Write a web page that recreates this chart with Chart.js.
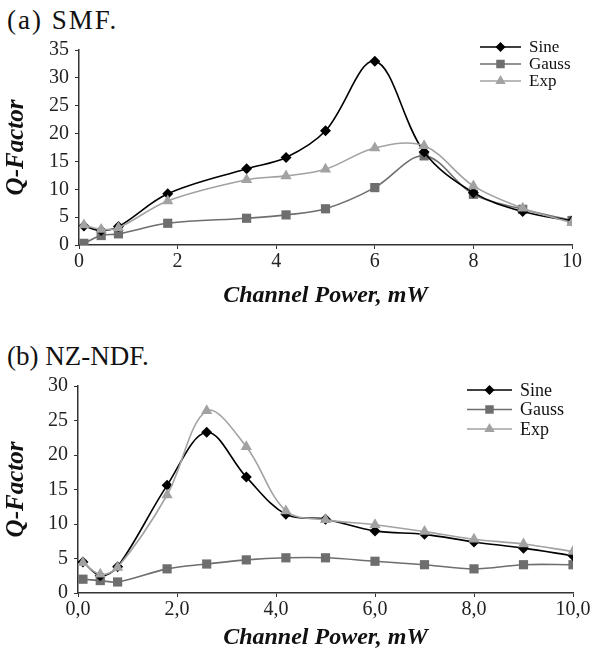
<!DOCTYPE html>
<html>
<head>
<meta charset="utf-8">
<script src="https://cdn.jsdelivr.net/npm/chart.js@4"></script>
<style>
  body { margin: 0; background: #fff; }
  #wrap { position: relative; width: 595px; height: 655px; }
  canvas { position: absolute; left: 0; }
  .caption { position: absolute; left: 7px; font-family: "Liberation Serif", "Times New Roman", serif; font-size: 27px; line-height: 27px; color: #111; white-space: nowrap; }
</style>
</head>
<body>
<div id="wrap">
  <div class="caption" style="top:7px; letter-spacing:2px">(a) SMF.</div>
  <canvas id="chartA" width="595" height="320" style="top:0"></canvas>
  <div class="caption" style="top:343px">(b) NZ-NDF.</div>
  <canvas id="chartB" width="595" height="330" style="top:325px"></canvas>
</div>
<script>
// (a) SMF
const powerA = [0.1, 0.45, 0.8, 1.8, 3.4, 4.2, 5.0, 6.0, 7.0, 8.0, 9.0, 10.0];
const sineA  = [3.4, 2.6, 3.3, 9.2, 13.7, 15.7, 20.5, 33.0, 16.7, 9.4, 6.0, 4.3];
const gaussA = [0.3, 1.7, 2.0, 3.9, 4.8, 5.4, 6.5, 10.3, 16.0, 9.1, 6.4, 4.4];
const expA   = [3.6, 2.8, 3.1, 7.9, 11.7, 12.4, 13.6, 17.4, 17.8, 10.6, 6.6, 4.0];
const xTicksA = ['0', '2', '4', '6', '8', '10'];

// (b) NZ-NDF
const powerB = [0.1, 0.45, 0.8, 1.8, 2.6, 3.4, 4.2, 5.0, 6.0, 7.0, 8.0, 9.0, 10.0];
const sineB  = [4.5, 2.5, 3.8, 15.6, 23.3, 16.8, 11.4, 10.7, 9.0, 8.5, 7.4, 6.5, 5.4];
const gaussB = [2.0, 1.8, 1.6, 3.5, 4.2, 4.8, 5.1, 5.1, 4.6, 4.1, 3.5, 4.1, 4.1];
const expB   = [4.4, 2.7, 3.7, 14.2, 26.4, 21.2, 11.9, 10.6, 9.9, 8.9, 7.8, 7.1, 6.0];
const xTicksB = ['0,0', '2,0', '4,0', '6,0', '8,0', '10,0'];

const seriesNames = ['Sine', 'Gauss', 'Exp'];

const SERIF = '"Liberation Serif", "Times New Roman", serif';
const styles = [
  { color: '#000000', pointStyle: 'rectRot', radius: 5.5, order: 1 },
  { color: '#6e6e6e', pointStyle: 'rect', radius: 6.5, order: 2 },
  { color: '#a2a2a2', pointStyle: 'triangle', radius: 6.5, order: 0 }
];

function points(xs, ys) {
  return xs.map((x, i) => ({ x: x, y: ys[i] }));
}

function makeDatasets(xs, lists) {
  return lists.map((ys, i) => ({
    label: seriesNames[i],
    data: points(xs, ys),
    borderColor: styles[i].color,
    backgroundColor: styles[i].color,
    borderWidth: 1.6,
    pointStyle: styles[i].pointStyle,
    pointRadius: styles[i].radius,
    pointBorderWidth: 0,
    tension: 0.35,
    order: styles[i].order
  }));
}

// legend drawn inside the plot: short line with the marker on it, then the name
const lineLegend = {
  id: 'lineLegend',
  afterDraw(chart, args, opts) {
    const ctx = chart.ctx;
    ctx.save();
    ctx.font = opts.fontSize + 'px ' + SERIF;
    ctx.textBaseline = 'middle';
    chart.data.datasets.forEach((ds, i) => {
      const y = opts.y + i * opts.gap;
      ctx.strokeStyle = ds.borderColor;
      ctx.lineWidth = 1.6;
      ctx.beginPath();
      ctx.moveTo(opts.x, y);
      ctx.lineTo(opts.x + opts.len, y);
      ctx.stroke();
      ctx.fillStyle = ds.backgroundColor;
      Chart.helpers.drawPoint(ctx, { pointStyle: ds.pointStyle, radius: ds.pointRadius - 0.5, borderWidth: 0 }, opts.x + opts.len / 2, y);
      ctx.fillStyle = '#111';
      ctx.fillText(ds.label, opts.x + opts.len + 8, y + 1);
    });
    ctx.restore();
  }
};

function buildChart(id, xs, lists, cfg) {
  return new Chart(document.getElementById(id), {
    type: 'line',
    data: { datasets: makeDatasets(xs, lists) },
    options: {
      responsive: false,
      animation: false,
      layout: { padding: { left: 0, right: cfg.right, top: cfg.top, bottom: 0 } },
      plugins: {
        legend: { display: false },
        tooltip: { enabled: false },
        lineLegend: cfg.legend
      },
      scales: {
        x: {
          type: 'linear',
          min: 0, max: 10,
          afterFit: s => { s.height = cfg.xHeight; },
          afterBuildTicks: s => { s.ticks = cfg.xTicks.map((t, i) => ({ value: i * 2 })); },
          ticks: {
            padding: 1,
            color: '#222',
            font: { family: SERIF, size: 20 },
            callback: (v, i) => cfg.xTicks[i]
          },
          grid: { drawOnChartArea: false, drawTicks: true, tickLength: 4, color: '#333' },
          border: { color: '#333', width: 1.5 },
          title: {
            display: true,
            text: 'Channel Power, mW',
            color: '#111',
            font: { family: SERIF, size: 24, style: 'italic', weight: 'bold' },
            padding: { top: 0, bottom: cfg.xTitlePad }
          }
        },
        y: {
          min: 0, max: cfg.yMax,
          afterFit: s => { s.width = cfg.yWidth; },
          ticks: {
            stepSize: 5,
            padding: 6,
            color: '#222',
            font: { family: SERIF, size: 20 }
          },
          grid: { drawOnChartArea: false, drawTicks: true, tickLength: 4, color: '#333' },
          border: { color: '#333', width: 1.5 },
          title: {
            display: true,
            text: 'Q-Factor',
            color: '#111',
            font: { family: SERIF, size: 25, style: 'italic', weight: 'bold' },
            padding: { top: 2, bottom: 0 }
          }
        }
      }
    },
    plugins: [lineLegend]
  });
}

buildChart('chartA', powerA, [sineA, gaussA, expA], {
  right: 23, top: 50, yWidth: 79, xHeight: 75, xTitlePad: 10, yMax: 35,
  xTicks: xTicksA,
  legend: { x: 480, y: 47, gap: 17, len: 41, fontSize: 17 }
});

buildChart('chartB', powerB, [sineB, gaussB, expB], {
  right: 22, top: 61, yWidth: 78, xHeight: 62, xTitlePad: 3, yMax: 30,
  xTicks: xTicksB,
  legend: { x: 467, y: 65, gap: 19.5, len: 45, fontSize: 18 }
});
</script>
</body>
</html>
